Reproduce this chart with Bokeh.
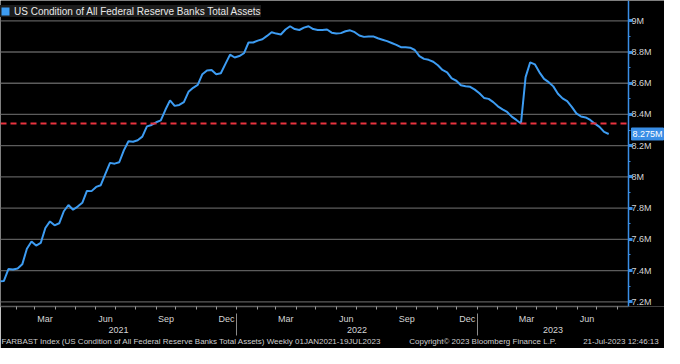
import pandas as pd
from bokeh.plotting import figure
from bokeh.models import (LinearAxis, FixedTicker, Range1d, Label, ColumnDataSource)
from bokeh.embed import file_html
from bokeh.resources import INLINE

# ---------------- data ----------------
SERIES_NAME = "US Condition of All Federal Reserve Banks Total Assets"
FIRST_WEEK = "2021-01-06"
LAST_WEEK = "2023-07-19"
# weekly total assets, in millions of $ millions ("M")
VALUES = [
    7.332, 7.333, 7.410, 7.407, 7.413, 7.440, 7.540, 7.586, 7.560, 7.577,
    7.673, 7.715, 7.690, 7.703, 7.780, 7.820, 7.790, 7.810, 7.834, 7.910,
    7.909, 7.936, 7.947, 8.020, 8.090, 8.085, 8.094, 8.170, 8.228, 8.225,
    8.235, 8.258, 8.324, 8.333, 8.350, 8.362, 8.430, 8.490, 8.455, 8.461,
    8.479, 8.545, 8.571, 8.589, 8.658, 8.682, 8.685, 8.658, 8.664, 8.724,
    8.783, 8.765, 8.774, 8.792, 8.861, 8.861, 8.873, 8.882, 8.903, 8.927,
    8.918, 8.912, 8.944, 8.965, 8.947, 8.941, 8.956, 8.965, 8.947, 8.941,
    8.941, 8.944, 8.924, 8.918, 8.921, 8.933, 8.939, 8.927, 8.906, 8.897,
    8.900, 8.900, 8.888, 8.879, 8.870, 8.858, 8.846, 8.831, 8.831, 8.828,
    8.813, 8.774, 8.756, 8.750, 8.738, 8.715, 8.685, 8.670, 8.631, 8.616,
    8.587, 8.581, 8.577, 8.559, 8.536, 8.506, 8.500, 8.479, 8.452, 8.433,
    8.416, 8.386, 8.365, 8.342, 8.639, 8.734, 8.721, 8.670, 8.628, 8.607,
    8.580, 8.533, 8.503, 8.485, 8.449, 8.407, 8.387, 8.381, 8.365, 8.341,
    8.321, 8.288, 8.275,
]
REF_LEVEL = 8.342          # red dashed reference level (pre-March 2023 level)
Y_TICKS = [7.2, 7.4, 7.6, 7.8, 8.0, 8.2, 8.4, 8.6, 8.8, 9.0]
Y_TICK_LABELS = ["7.2M", "7.4M", "7.6M", "7.8M", "8M", "8.2M", "8.4M", "8.6M", "8.8M", "9M"]
MONTH_LABELS = ["Mar", "Jun", "Sep", "Dec"]
YEARS = [2021, 2022, 2023]
X_VIEW = ("2021-01-08", "2023-08-18")
Y_VIEW = (7.17, 9.13)
FOOTER_TEXTS = [
    "FARBAST Index (US Condition of All Federal Reserve Banks Total Assets)  Weekly 01JAN2021-19JUL2023",
    "Copyright\u00a9 2023 Bloomberg Finance L.P.",
    "21-Jul-2023 12:46:13",
]
FOOTER_AT = [0.306, 0.768, 0.988]   # label centres, as fractions of the visible span

# ---------------- layout constants ----------------
W, H = 664, 348
PLOT_W = 628                       # width of the charting area; the rest holds the value scale
BOTTOM = 42                        # height reserved for the time axis and footer
KEY_H = 20                         # height of the series key box
KEY_UP = 3                         # nudge of the key box towards the top edge

# ---------------- helpers ----------------
ORIGIN = pd.Timestamp("2021-01-01")
def day(ts):
    return float((pd.Timestamp(ts) - ORIGIN) / pd.Timedelta(days=1))

dates = pd.date_range(FIRST_WEEK, LAST_WEEK, freq="7D")
assert len(dates) == len(VALUES)
xs = [day(d) for d in dates]
x0, x1 = day(X_VIEW[0]), day(X_VIEW[1])
x_full = x0 + (x1 - x0) * W / PLOT_W

month_starts = [day(d) for d in pd.date_range("2021-01-01", "2023-09-01", freq="MS") if x0 <= day(d) <= x1]
month_pos, month_over = [], {}
for d in pd.date_range("2021-01-01", "2023-08-01", freq="MS"):
    if d.strftime("%b") in MONTH_LABELS:
        nxt = d + pd.offsets.MonthBegin(1)
        c = (day(d) + day(nxt)) / 2
        if x0 < c < x1:
            month_pos.append(c)
            month_over[c] = d.strftime("%b")

year_pos, year_over, year_bounds = [], {}, []
for yr in YEARS:
    a = max(day(f"{yr}-01-01"), x0)
    b = min(day(f"{yr + 1}-01-01"), x1)
    c = (a + b) / 2
    year_pos.append(c)
    year_over[c] = str(yr)
    if x0 < day(f"{yr}-01-01") < x1:
        year_bounds.append(day(f"{yr}-01-01"))

foot_pos = [x0 + f * (x1 - x0) for f in FOOTER_AT]
foot_over = dict(zip(foot_pos, FOOTER_TEXTS))

y_minor = [round((a + b) / 2, 2) for a, b in zip(Y_TICKS[:-1], Y_TICKS[1:])]

# ---------------- styling ----------------
BLUE = "#3d9cf2"
AXBLUE = "#3a8ee6"
GRID = "#5c5c5c"
TXT = "#d4d4d4"
FONT = "Liberation Sans"

p = figure(width=W, height=H, output_backend="svg", toolbar_location=None,
           x_range=Range1d(x0, x_full), y_range=Range1d(*Y_VIEW),
           x_axis_location=None, y_axis_location=None,
           background_fill_color="black", border_fill_color="black",
           outline_line_color=None, min_border_left=0, min_border_top=0,
           min_border_right=0, min_border_bottom=BOTTOM)
for g in list(p.grid):
    g.visible = False

# horizontal grid lines, only across the charting area
n = len(Y_TICKS)
p.segment(x0=[x0] * n, x1=[x1] * n, y0=Y_TICKS, y1=Y_TICKS,
          line_color=GRID, line_width=1.3, level="underlay")

src = ColumnDataSource(dict(x=xs, y=VALUES))
p.line("x", "y", source=src, line_color=BLUE, line_width=2)
p.segment(x0=[x0], x1=[x1], y0=[REF_LEVEL], y1=[REF_LEVEL],
          line_color="#e8323f", line_dash="6 4", line_width=2)

# series key (square swatch) - renderer with no drawable point
nan = float("nan")
p.quad(left=[nan], right=[nan], top=[nan], bottom=[nan], fill_color=BLUE,
       line_color=None, legend_label=SERIES_NAME)
lg = p.legend[0]
lg.location = (0, H - BOTTOM - KEY_H + KEY_UP)
lg.margin = 0
lg.padding = 4
lg.spacing = 0
lg.glyph_width = 10
lg.glyph_height = 10
lg.label_standoff = 4
lg.label_height = 12
lg.label_text_font = FONT
lg.label_text_font_size = "10px"
lg.label_text_color = "#e8e8e8"
lg.background_fill_color = "#1c1c1c"
lg.background_fill_alpha = 1
lg.border_line_color = None

# right value axis, pinned at the end of the charting area
yax = LinearAxis(ticker=FixedTicker(ticks=Y_TICKS, minor_ticks=y_minor),
                 major_label_overrides=dict(zip(Y_TICKS, Y_TICK_LABELS)),
                 fixed_location=x1,
                 axis_line_color=AXBLUE, axis_line_width=1.5,
                 major_tick_line_color=AXBLUE, major_tick_line_width=3,
                 major_tick_in=0, major_tick_out=4,
                 minor_tick_line_color=AXBLUE, minor_tick_in=0, minor_tick_out=2,
                 major_label_standoff=-1, major_label_text_font=FONT,
                 major_label_text_font_size="9px", major_label_text_color=TXT)
p.add_layout(yax, "right")

# month axis
max_ = LinearAxis(ticker=FixedTicker(ticks=month_pos, minor_ticks=month_starts),
                  major_label_overrides=month_over, bounds=(x0, x1),
                  axis_line_color=GRID, axis_line_width=1.3,
                  major_tick_line_color=None, major_tick_in=0, major_tick_out=0,
                  minor_tick_line_color="#9a9a9a", minor_tick_in=0, minor_tick_out=3,
                  major_label_standoff=4, major_label_text_font=FONT,
                  major_label_text_font_size="9px", major_label_text_color=TXT)
p.add_layout(max_, "below")

# year axis
yrax = LinearAxis(ticker=FixedTicker(ticks=year_pos), major_label_overrides=year_over,
                  axis_line_color=None, major_tick_line_color=None,
                  major_tick_in=0, major_tick_out=0,
                  minor_tick_line_color=None, minor_tick_in=0, minor_tick_out=0,
                  major_label_standoff=0, major_label_text_font=FONT,
                  major_label_text_font_size="9px", major_label_text_color=TXT)
p.add_layout(yrax, "below")

# year separators
sepax = LinearAxis(ticker=FixedTicker(ticks=year_bounds),
                   major_label_overrides={b: "" for b in year_bounds},
                   axis_line_color=None, major_tick_line_color="#8a8a8a",
                   major_tick_line_width=1, major_tick_in=22, major_tick_out=0,
                   minor_tick_line_color=None, minor_tick_in=0, minor_tick_out=0,
                   major_label_standoff=0, major_label_text_font_size="1px")
p.add_layout(sepax, "below")

# footer line
footax = LinearAxis(ticker=FixedTicker(ticks=foot_pos), major_label_overrides=foot_over,
                    axis_line_color=None, major_tick_line_color=None,
                    major_tick_in=0, major_tick_out=0,
                    minor_tick_line_color=None, minor_tick_in=0, minor_tick_out=0,
                    major_label_standoff=1, major_label_text_font=FONT,
                    major_label_text_font_size="8px", major_label_text_color="#cfcfcf")
p.add_layout(footax, "below")

# last value tag
p.add_layout(Label(x=x1, y=VALUES[-1], x_units="data", y_units="data", x_offset=3,
                   text=f"{VALUES[-1]:.3f}M", text_align="left",
                   text_baseline="middle", text_font=FONT, text_font_size="9px",
                   text_color="white", background_fill_color=AXBLUE,
                   border_line_color=AXBLUE, padding=1))

open("out.html", "w").write(file_html(p, INLINE))
